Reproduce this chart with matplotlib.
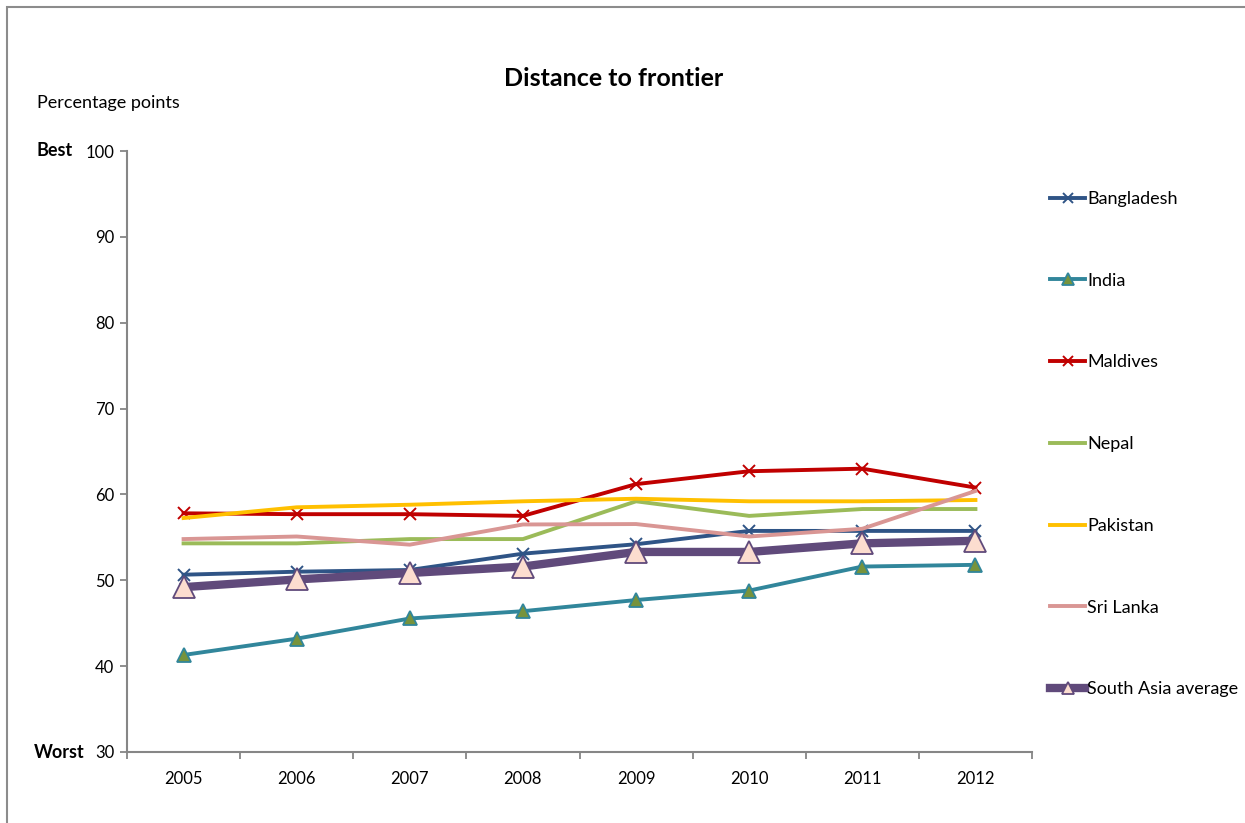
import matplotlib
matplotlib.use("Agg")
import matplotlib.pyplot as plt
from matplotlib.patches import Rectangle

plt.rcParams['font.family'] = ['Lato', 'DejaVu Sans']

years = ["2005", "2006", "2007", "2008", "2009", "2010", "2011", "2012"]
bangladesh = [50.65, 51.0, 51.2, 53.1, 54.2, 55.75, 55.75, 55.75]
india = [41.3, 43.2, 45.55, 46.4, 47.7, 48.8, 51.6, 51.8]
maldives = [57.8, 57.7, 57.7, 57.5, 61.2, 62.7, 63.0, 60.8]
nepal = [54.3, 54.3, 54.8, 54.8, 59.2, 57.5, 58.3, 58.3]
pakistan = [57.25, 58.5, 58.8, 59.2, 59.5, 59.2, 59.2, 59.35]
sri_lanka = [54.8, 55.1, 54.15, 56.5, 56.55, 55.1, 56.0, 60.4]
south_asia = [49.2, 50.1, 50.85, 51.6, 53.3, 53.3, 54.3, 54.6]

fig = plt.figure(figsize=(12.45, 8.23), dpi=100)
ax = fig.add_axes([127/1245, 1-752/823, (1032-127)/1245, (752-151)/823])

x = list(range(len(years)))
lw = 2.8
ax.plot(x, bangladesh, color='#2F5486', lw=lw, marker='x', ms=9, mew=1.4, label='Bangladesh')
ax.plot(x, india, color='#31869B', lw=lw, marker='^', ms=10, mfc='#77933C', mec='#31869B', mew=1.3, label='India')
ax.plot(x, maldives, color='#C00000', lw=lw, marker='x', ms=9, mew=1.4, label='Maldives')
ax.plot(x, nepal, color='#9BBB59', lw=lw, label='Nepal')
ax.plot(x, pakistan, color='#FFC000', lw=lw, label='Pakistan')
ax.plot(x, sri_lanka, color='#D99694', lw=lw, label='Sri Lanka')
ax.plot(x, south_asia, color='#604A7B', lw=6, marker='^', ms=16, mfc='#FCDDCF', mec='#604A7B', mew=1.3, label='South Asia average')

ax.set_xlim(-0.5, len(years) - 0.5)
ax.set_ylim(30, 100)
ax.set_yticks([30, 40, 50, 60, 70, 80, 90, 100])
ax.set_xticks(x)
ax.set_xticklabels(years)
ax.set_xticks([i - 0.5 for i in range(len(years) + 1)], minor=True)
ax.tick_params(axis='x', which='major', length=0, pad=14, labelsize=12, colors='#000000')
ax.tick_params(axis='x', which='minor', length=5, color='#868686', width=1.3)
ax.tick_params(axis='y', length=5, color='#868686', width=1.3, labelsize=12, pad=4)
for s in ['top', 'right']:
    ax.spines[s].set_visible(False)
for s in ['left', 'bottom']:
    ax.spines[s].set_color('#868686')
    ax.spines[s].set_linewidth(1.5)

fig.text(614/1245, 1-79/823, 'Distance to frontier', ha='center', va='center', fontsize=18, fontweight='bold')
fig.text(37/1245, 1-103/823, 'Percentage points', ha='left', va='center', fontsize=13)
fig.text(37/1245, 1-150/823, 'Best', ha='left', va='center', fontsize=13, fontweight='bold')
fig.text(34/1245, 1-752/823, 'Worst', ha='left', va='center', fontsize=13, fontweight='bold')

leg = ax.legend(loc='upper left', bbox_to_anchor=(1050/1245, 1-191/823), bbox_transform=fig.transFigure,
                frameon=False, fontsize=13, handlelength=1.95, handletextpad=0.1,
                labelspacing=3.64, borderaxespad=0, borderpad=0)
handle_ms = [7, 9, 7, None, None, None, 9]
for h, m in zip(leg.legend_handles, handle_ms):
    if m is not None:
        h.set_markersize(m)

fig.patches.append(Rectangle((7/1245, -0.01), 1.02, 1-7/823 + 0.01, transform=fig.transFigure,
                             fill=False, edgecolor='#8C8C8C', lw=1.5, zorder=0))

fig.savefig('out.png', dpi=100)
